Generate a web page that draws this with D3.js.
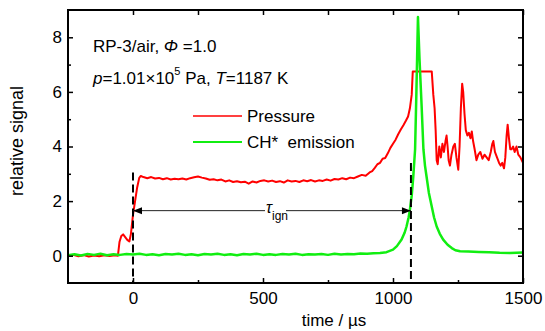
<!DOCTYPE html>
<html>
<head>
<meta charset="utf-8">
<script src="https://cdn.jsdelivr.net/npm/d3@7"></script>
<style>
body { margin: 0; background: #fff; }
text { font-family: "Liberation Sans", Arial, sans-serif; fill: #000; }
</style>
</head>
<body>
<svg id="chart" width="545" height="331"></svg>
<script>
// pressure trace [time (µs), relative signal]
const pressure = [
    [-250, 0.0], [-230, 0.03], [-210, -0.02], [-190, 0.02], [-170, -0.03], [-150, 0.01],
    [-130, -0.02], [-110, 0.02], [-90, -0.01], [-70, 0.02], [-58, 0.0], [-52, 0.5],
    [-45, 0.72], [-38, 0.78], [-30, 0.68], [-22, 0.58], [-14, 0.52], [-8, 0.8],
    [0, 1.5], [8, 2.0], [16, 2.5], [24, 2.85], [30, 2.92], [40, 2.88], [55, 2.84],
    [70, 2.88], [85, 2.83], [100, 2.85], [115, 2.8], [130, 2.84], [145, 2.79], [160, 2.82],
    [175, 2.8], [190, 2.83], [205, 2.79], [220, 2.84], [235, 2.87], [250, 2.9], [265, 2.86],
    [280, 2.83], [295, 2.78], [310, 2.8], [325, 2.76], [340, 2.79], [355, 2.72], [370, 2.76],
    [385, 2.7], [400, 2.73], [415, 2.69], [430, 2.71], [445, 2.64], [460, 2.72], [475, 2.68],
    [490, 2.74], [505, 2.76], [520, 2.72], [535, 2.75], [550, 2.7], [565, 2.73], [580, 2.68],
    [595, 2.76], [610, 2.72], [625, 2.74], [640, 2.7], [655, 2.76], [670, 2.73], [685, 2.77],
    [700, 2.72], [715, 2.76], [730, 2.74], [745, 2.79], [760, 2.75], [775, 2.81], [790, 2.79],
    [805, 2.84], [820, 2.8], [835, 2.86], [850, 2.84], [865, 2.9], [880, 2.96], [895, 2.93],
    [910, 3.05], [920, 3.1], [930, 3.22], [940, 3.35], [950, 3.4], [960, 3.55], [970, 3.58],
    [980, 3.75], [990, 3.95], [1000, 4.1], [1010, 4.25], [1020, 4.45], [1030, 4.62],
    [1040, 4.78], [1050, 4.95], [1058, 5.1], [1065, 5.4], [1072, 5.9], [1076, 6.75],
    [1149, 6.75], [1155, 5.9], [1160, 5.4], [1164, 4.6], [1168, 3.5], [1172, 3.35],
    [1178, 4.0], [1184, 3.6], [1190, 4.1], [1196, 3.8], [1202, 4.2], [1206, 4.4], [1210, 4.0],
    [1214, 3.5], [1219, 3.3], [1225, 3.7], [1232, 4.0], [1238, 4.1], [1244, 3.6], [1251, 3.15],
    [1256, 4.0], [1261, 5.4], [1266, 6.3], [1270, 6.0], [1275, 5.2], [1280, 4.6], [1286, 4.4],
    [1292, 4.5], [1298, 4.3], [1303, 4.55], [1308, 4.2], [1314, 3.9], [1321, 3.5], [1328, 3.7],
    [1336, 3.8], [1344, 3.55], [1352, 3.7], [1360, 3.6], [1368, 3.5], [1376, 3.8], [1382, 4.1],
    [1386, 4.2], [1392, 3.8], [1400, 3.6], [1408, 3.4], [1414, 3.3], [1420, 3.4], [1427, 3.2],
    [1432, 3.6], [1437, 4.4], [1441, 4.8], [1446, 4.3], [1451, 3.9], [1456, 3.9], [1462, 4.0],
    [1468, 3.8], [1475, 4.0], [1482, 3.7], [1490, 3.6], [1500, 3.4]
];

// CH* emission trace
const emission = [
    [-250, 0.02], [-225, 0.05], [-200, 0.01], [-175, 0.06], [-150, 0.03], [-125, 0.07],
    [-100, 0.02], [-75, 0.05], [-50, 0.03], [-25, 0.06], [0, 0.04], [25, 0.07], [50, 0.03],
    [75, 0.05], [100, 0.02], [125, 0.06], [150, 0.04], [175, 0.07], [200, 0.03], [225, 0.05],
    [250, 0.02], [275, 0.06], [300, 0.04], [325, 0.07], [350, 0.03], [375, 0.05], [400, 0.02],
    [425, 0.06], [450, 0.04], [475, 0.07], [500, 0.03], [525, 0.05], [550, 0.03], [575, 0.06],
    [600, 0.04], [625, 0.07], [650, 0.03], [675, 0.05], [700, 0.04], [725, 0.06], [750, 0.03],
    [775, 0.07], [800, 0.04], [825, 0.06], [850, 0.05], [875, 0.08], [900, 0.07], [925, 0.09],
    [950, 0.1], [975, 0.13], [1000, 0.22], [1015, 0.35], [1033, 0.59], [1045, 0.85],
    [1052, 1.07], [1060, 1.4], [1065, 1.68], [1072, 2.2], [1078, 2.9], [1085, 3.9],
    [1090, 6.0], [1096, 8.74], [1102, 7.2], [1110, 5.5], [1117, 3.9], [1123, 3.3],
    [1129, 2.9], [1138, 2.3], [1149, 1.8], [1158, 1.4], [1168, 1.07], [1180, 0.8],
    [1193, 0.59], [1210, 0.4], [1226, 0.28], [1240, 0.2], [1258, 0.16], [1290, 0.15],
    [1330, 0.14], [1370, 0.13], [1410, 0.11], [1450, 0.1], [1500, 0.12]
];

const xMajor = [0, 500, 1000, 1500];
const xMinor = [250, 750, 1250];
const yMajor = [0, 2, 4, 6, 8];
const yMinor = [1, 3, 5, 7];
const yRight = [0, 1, 2, 3, 4, 5, 6, 7, 8];

// ignition delay marker
const tauStart = 0, tauEnd = 1069, tauLevel = 1.65;
const dashTop = [3.05, 3.4];

const margin = { top: 10, right: 22, bottom: 48, left: 68 };
const width = 545, height = 331;

const svg = d3.select("#chart");

const x = d3.scaleLinear()
    .domain([-250, 1500])
    .range([margin.left, width - margin.right]);

const y = d3.scaleLinear()
    .domain([-1, 9])
    .range([height - margin.bottom, margin.top]);

const line = d3.line()
    .x(d => x(d[0]))
    .y(d => y(d[1]));

svg.append("path")
    .datum(pressure)
    .attr("fill", "none")
    .attr("stroke", "#ff0000")
    .attr("stroke-width", 2)
    .attr("stroke-linejoin", "round")
    .attr("d", line);

svg.append("path")
    .datum(emission)
    .attr("fill", "none")
    .attr("stroke", "#11ee11")
    .attr("stroke-width", 2.5)
    .attr("stroke-linejoin", "round")
    .attr("d", line);

// dashed vertical lines
svg.selectAll(".dash")
    .data([tauStart, tauEnd])
    .join("line")
    .attr("class", "dash")
    .attr("x1", d => x(d))
    .attr("x2", d => x(d))
    .attr("y1", (d, i) => y(dashTop[i]))
    .attr("y2", y(-1))
    .attr("stroke", "#000")
    .attr("stroke-width", 2)
    .attr("stroke-dasharray", "8,4");

// tau arrow
const ay = y(tauLevel);
svg.append("line")
    .attr("x1", x(tauStart)).attr("x2", x(tauEnd))
    .attr("y1", ay).attr("y2", ay)
    .attr("stroke", "#222")
    .attr("stroke-width", 1);
svg.append("path")
    .attr("d", `M${x(tauStart)},${ay}l9,-3.5v7z M${x(tauEnd)},${ay}l-9,-3.5v7z`)
    .attr("fill", "#000");

const tauX = 266;
svg.append("rect")
    .attr("x", tauX - 1).attr("y", ay - 6)
    .attr("width", 21).attr("height", 12)
    .attr("fill", "#fff");
const tau = svg.append("text")
    .attr("x", tauX)
    .attr("y", ay + 2);
tau.append("tspan").attr("font-size", 16).attr("font-style", "italic").text("τ");
tau.append("tspan").attr("font-size", 12).attr("dy", 7).text("ign");

// axes
const fmt = d3.format("d");
svg.append("g")
    .attr("transform", `translate(0,${y(-1)})`)
    .call(d3.axisBottom(x).tickValues(xMajor).tickFormat(fmt).tickSize(-5).tickPadding(9).tickSizeOuter(0));
svg.append("g")
    .attr("transform", `translate(0,${y(-1)})`)
    .call(d3.axisBottom(x).tickValues(xMinor).tickSize(-3).tickFormat("").tickSizeOuter(0));
svg.append("g")
    .attr("transform", `translate(0,${y(9)})`)
    .call(d3.axisTop(x).tickValues(xMajor.concat(xMinor)).tickSize(-5).tickFormat("").tickSizeOuter(0));

svg.append("g")
    .attr("transform", `translate(${x(-250)},0)`)
    .call(d3.axisLeft(y).tickValues(yMajor).tickFormat(fmt).tickSize(-5).tickPadding(6).tickSizeOuter(0));
svg.append("g")
    .attr("transform", `translate(${x(-250)},0)`)
    .call(d3.axisLeft(y).tickValues(yMinor).tickSize(-3).tickFormat("").tickSizeOuter(0));
svg.append("g")
    .attr("transform", `translate(${x(1500)},0)`)
    .call(d3.axisRight(y).tickValues(yRight).tickSize(-5).tickFormat("").tickSizeOuter(0));

svg.selectAll(".tick line").attr("stroke", "#000").attr("stroke-width", 1.5);
svg.selectAll(".domain").remove();
svg.selectAll(".tick text")
    .attr("font-family", "Liberation Sans, Arial, sans-serif")
    .attr("font-size", 17)
    .attr("fill", "#000");

svg.append("rect")
    .attr("x", x(-250)).attr("y", y(9))
    .attr("width", x(1500) - x(-250))
    .attr("height", y(-1) - y(9))
    .attr("fill", "none")
    .attr("stroke", "#000")
    .attr("stroke-width", 2);

// axis titles
svg.append("text")
    .attr("transform", `translate(23,141) rotate(-90)`)
    .attr("text-anchor", "middle")
    .attr("font-size", 18)
    .text("relative signal");

svg.append("text")
    .attr("x", 334).attr("y", 326)
    .attr("text-anchor", "middle")
    .attr("font-size", 17)
    .text("time / µs");

// condition annotation
const t1 = svg.append("text").attr("x", 93).attr("y", 52).attr("font-size", 17).style("white-space", "pre");
t1.append("tspan").text("RP-3/air, ");
t1.append("tspan").attr("font-style", "italic").text("Φ");
t1.append("tspan").text(" =1.0");

const t2 = svg.append("text").attr("x", 93).attr("y", 84).attr("font-size", 17).style("white-space", "pre");
t2.append("tspan").attr("font-style", "italic").text("p");
t2.append("tspan").text("=1.01×10");
t2.append("tspan").attr("font-size", 11).attr("dy", -9).text("5");
t2.append("tspan").attr("dy", 9).text(" Pa, ");
t2.append("tspan").attr("font-style", "italic").text("T");
t2.append("tspan").text("=1187 K");

// legend
const legend = [
    { name: "Pressure", color: "#ff0000", w: 1.5 },
    { name: "CH*  emission", color: "#11ee11", w: 2 }
];
legend.forEach((d, i) => {
    const ly = 116 + i * 26;
    svg.append("line")
        .attr("x1", 193).attr("x2", 242)
        .attr("y1", ly).attr("y2", ly)
        .attr("stroke", d.color)
        .attr("stroke-width", d.w);
    svg.append("text")
        .attr("x", 247).attr("y", ly + 6)
        .attr("font-size", 17)
        .style("white-space", "pre")
        .text(d.name);
});
</script>
</body>
</html>
